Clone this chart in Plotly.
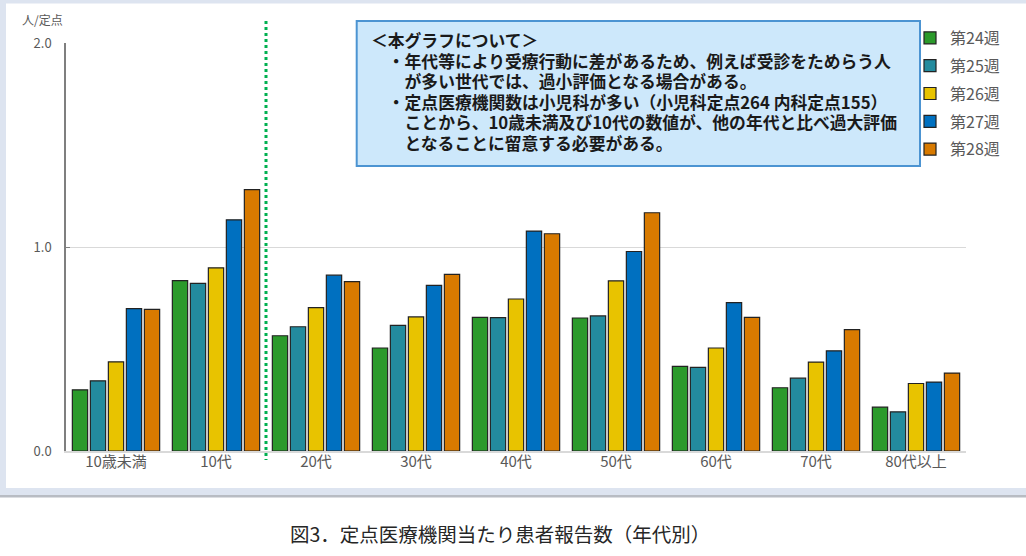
import plotly.graph_objects as go

# 年代別 定点当たり患者報告数
age_groups = ["10歳未満", "10代", "20代", "30代", "40代", "50代", "60代", "70代", "80代以上"]
week_names = ["第24週", "第25週", "第26週", "第27週", "第28週"]

wk24 = [0.300, 0.835, 0.565, 0.505, 0.655, 0.652, 0.415, 0.310, 0.215]
wk25 = [0.344, 0.822, 0.609, 0.616, 0.654, 0.662, 0.410, 0.357, 0.192]
wk26 = [0.437, 0.898, 0.703, 0.657, 0.745, 0.834, 0.505, 0.436, 0.331]
wk27 = [0.698, 1.133, 0.862, 0.812, 1.078, 0.978, 0.727, 0.491, 0.338]
wk28 = [0.694, 1.281, 0.830, 0.866, 1.065, 1.168, 0.655, 0.595, 0.382]

y_ticks = [0.0, 1.0, 2.0]

note_lines = [
    "＜本グラフについて＞",
    "　・年代等により受療行動に差があるため、例えば受診をためらう人",
    "　　が多い世代では、過小評価となる場合がある。",
    "　・定点医療機関数は小児科が多い（小児科定点264 内科定点155）",
    "　　ことから、10歳未満及び10代の数値が、他の年代と比べ過大評価",
    "　　となることに留意する必要がある。",
]
caption = "図3．定点医療機関当たり患者報告数（年代別）"

FONT = "Noto Sans CJK JP"
W, H = 1026, 556
ML, MR, MT, MB = 66, 60, 43, 105
colors = ["#2b9a2b", "#238b9e", "#e8c300", "#0070c0", "#d87a00"]


def px_x(px):
    return (px - ML) / (W - ML - MR)


def px_y(py):
    return (H - MB - py) / (H - MT - MB)


fig = go.Figure()

for i, (name, vals) in enumerate(zip(week_names, [wk24, wk25, wk26, wk27, wk28])):
    fig.add_trace(go.Bar(
        name=name,
        x=age_groups,
        y=vals,
        marker=dict(color=colors[i], line=dict(color="#222222", width=1.2)),
        legendgroup=name,
        hoverinfo="x+y+name",
    ))

shapes = [
    # 外枠
    dict(type="rect", xref="paper", yref="paper", x0=px_x(0), x1=px_x(W), y0=px_y(0), y1=px_y(3.5),
         fillcolor="#dde4f0", line_width=0, layer="below"),
    dict(type="rect", xref="paper", yref="paper", x0=px_x(0), x1=px_x(6), y0=px_y(0), y1=px_y(495),
         fillcolor="#dde4f0", line_width=0, layer="below"),
    dict(type="rect", xref="paper", yref="paper", x0=px_x(0), x1=px_x(W), y0=px_y(488), y1=px_y(495),
         fillcolor="#dde4f0", line_width=0, layer="below"),
    dict(type="rect", xref="paper", yref="paper", x0=px_x(0), x1=px_x(W), y0=px_y(495), y1=px_y(497.5),
         fillcolor="#b8bcc3", line_width=0, layer="below"),
    # 10代と20代の区切り
    dict(type="line", xref="x", yref="paper", x0=1.5, x1=1.5, y0=px_y(21), y1=px_y(460),
         line=dict(color="#00b050", width=3, dash="dot")),
    # 注記ボックス
    dict(type="rect", xref="paper", yref="paper", x0=px_x(356.7), x1=px_x(920), y0=px_y(21), y1=px_y(166),
         fillcolor="#cde8fb", line=dict(color="#4c94d2", width=2), layer="above"),
]

annotations = [
    dict(text="人/定点", xref="paper", yref="paper", x=px_x(20), y=px_y(20),
         xanchor="left", yanchor="middle", showarrow=False,
         font=dict(family=FONT, size=12, color="#595959")),
    dict(text=caption, xref="paper", yref="paper", x=px_x(500), y=px_y(533),
         xanchor="center", yanchor="middle", showarrow=False,
         font=dict(family=FONT, size=19.5, color="#262626")),
]
# 注記は1行ずつ配置（行間を詰めるため）
for i, line in enumerate(note_lines):
    annotations.append(dict(
        text="<b>" + line + "</b>", xref="paper", yref="paper",
        x=px_x(369), y=px_y(40 + i * 20.6), xanchor="left", yanchor="middle",
        showarrow=False, font=dict(family=FONT, size=16.8, color="#1a1a1a"),
    ))

fig.update_layout(
    width=W,
    height=H,
    margin=dict(l=ML, r=MR, t=MT, b=MB, autoexpand=False),
    paper_bgcolor="white",
    plot_bgcolor="white",
    barmode="group",
    bargap=0.1,
    bargroupgap=0.15,
    font=dict(family=FONT, color="#595959"),
    shapes=shapes,
    annotations=annotations,
    legend=dict(
        x=px_x(910), y=px_y(21), xanchor="left", yanchor="top",
        font=dict(family=FONT, size=16, color="#595959"),
        tracegroupgap=4, bgcolor="rgba(0,0,0,0)",
    ),
    xaxis=dict(
        showline=True, linecolor="#d9d9d9", linewidth=1.5,
        ticks="", tickfont=dict(family=FONT, size=15, color="#595959"),
        ticklabelstandoff=-4, showgrid=False,
    ),
    yaxis=dict(
        range=[0, 2.0], tickvals=y_ticks, tickformat=".1f",
        showline=True, linecolor="#7f7f7f", linewidth=1.5,
        ticks="inside", ticklen=4, tickcolor="#7f7f7f", ticklabelstandoff=10,
        showgrid=True, gridcolor="#d9d9d9", gridwidth=1.2, zeroline=False,
        tickfont=dict(family=FONT, size=13, color="#595959"),
    ),
)

fig.write_html("out.html", config={"displayModeBar": False},
               post_script="document.body.style.margin='0';")
